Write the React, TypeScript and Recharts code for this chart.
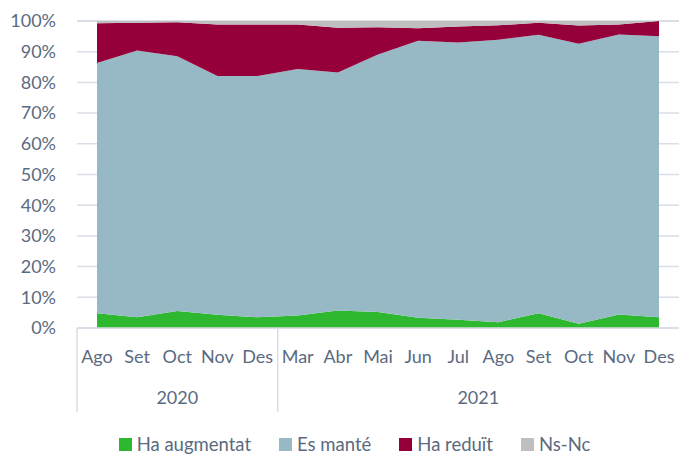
import { AreaChart, Area, XAxis, YAxis, CartesianGrid, Legend } from "recharts";

const months = ["Ago", "Set", "Oct", "Nov", "Des", "Mar", "Abr", "Mai", "Jun", "Jul", "Ago", "Set", "Oct", "Nov", "Des"];
const yearGroups = [
  { label: "2020", start: 0, end: 4 },
  { label: "2021", start: 5, end: 14 },
];

const haAugmentat = [4.8, 3.5, 5.5, 4.3, 3.5, 4.1, 5.7, 5.2, 3.3, 2.7, 1.9, 4.8, 1.4, 4.4, 3.5];
const esMante = [81.5, 86.9, 83.0, 77.8, 78.6, 80.3, 77.5, 83.9, 90.3, 90.3, 92.0, 90.7, 91.2, 91.2, 91.5];
const haReduit = [13.0, 9.0, 11.1, 16.8, 16.8, 14.5, 14.6, 8.9, 4.0, 5.2, 4.7, 3.9, 5.9, 3.3, 5.0];
const nsNc = [0.7, 0.6, 0.4, 1.1, 1.1, 1.1, 2.2, 2.0, 2.4, 1.8, 1.4, 0.6, 1.5, 1.1, 0.0];

const yTicks = [0, 10, 20, 30, 40, 50, 60, 70, 80, 90, 100];

const series = [
  { key: "augmentat", name: "Ha augmentat", color: "#2eb82f" },
  { key: "mante", name: "Es manté", color: "#97b9c6" },
  { key: "reduit", name: "Ha reduït", color: "#95003b" },
  { key: "nsnc", name: "Ns-Nc", color: "#bfbfbf" },
];

const data = months.map((m, i) => ({
  month: m,
  augmentat: haAugmentat[i],
  mante: esMante[i],
  reduit: haReduit[i],
  nsnc: nsNc[i],
}));

const FONT = "Lato, 'Open Sans', sans-serif";
const TEXT = "#5b6a80";
const LINE = "#d9dde6";
const HALF_STEP = 20;

function MonthTick(props: any) {
  const { x, y, payload, index } = props;
  const parts: any[] = [
    <text key="m" x={x} y={y + 35} textAnchor="middle" fill={TEXT} fontSize={18} fontFamily={FONT}>
      {payload.value}
    </text>,
  ];
  yearGroups.forEach((g) => {
    if (index === g.start) {
      parts.push(<line key={"s" + g.label} x1={x - HALF_STEP} x2={x - HALF_STEP} y1={y} y2={y + 84} stroke={LINE} strokeWidth={1.5} />);
    }
    const mid = (g.start + g.end) / 2;
    if (index === Math.floor(mid)) {
      const lx = mid % 1 ? x + HALF_STEP : x;
      parts.push(
        <text key={"y" + g.label} x={lx} y={y + 76} textAnchor="middle" fill={TEXT} fontSize={18} fontFamily={FONT}>
          {g.label}
        </text>
      );
    }
  });
  return <g>{parts}</g>;
}

function LegendBox() {
  return (
    <div style={{ display: "flex", justifyContent: "center", gap: 28, paddingLeft: 30, fontFamily: FONT, fontSize: 18.5, color: TEXT }}>
      {series.map((s) => (
        <div key={s.key} style={{ display: "flex", alignItems: "center", gap: 5 }}>
          <span style={{ width: 13, height: 13, background: s.color, display: "inline-block" }} />
          {s.name}
        </div>
      ))}
    </div>
  );
}

export default function App() {
  return (
    <div style={{ position: "absolute", left: 0, top: 0, background: "#fff" }}>
      <AreaChart width={679} height={454} data={data} margin={{ top: 21, right: 0, left: 0, bottom: 20 }}>
        <CartesianGrid horizontal vertical={false} stroke={LINE} strokeWidth={1.5} />
        <XAxis
          dataKey="month"
          interval={0}
          padding={{ left: HALF_STEP, right: HALF_STEP }}
          height={84}
          tickSize={0}
          tickMargin={0}
          tickLine={false}
          axisLine={{ stroke: LINE, strokeWidth: 1.5 }}
          tick={<MonthTick />}
        />
        <YAxis
          width={77}
          domain={[0, 100]}
          ticks={yTicks}
          tickFormatter={(v) => `${v}%`}
          axisLine={false}
          tickLine={false}
          tickSize={0}
          tickMargin={21}
          tick={{ fill: TEXT, fontSize: 18, fontFamily: FONT }}
        />
        {series.map((s) => (
          <Area
            key={s.key}
            type="linear"
            dataKey={s.key}
            name={s.name}
            stackId="1"
            stroke="none"
            fill={s.color}
            fillOpacity={1}
            isAnimationActive={false}
          />
        ))}
        <Legend verticalAlign="bottom" content={<LegendBox />} wrapperStyle={{ left: 0, top: 433, width: 679 }} />
      </AreaChart>
    </div>
  );
}
